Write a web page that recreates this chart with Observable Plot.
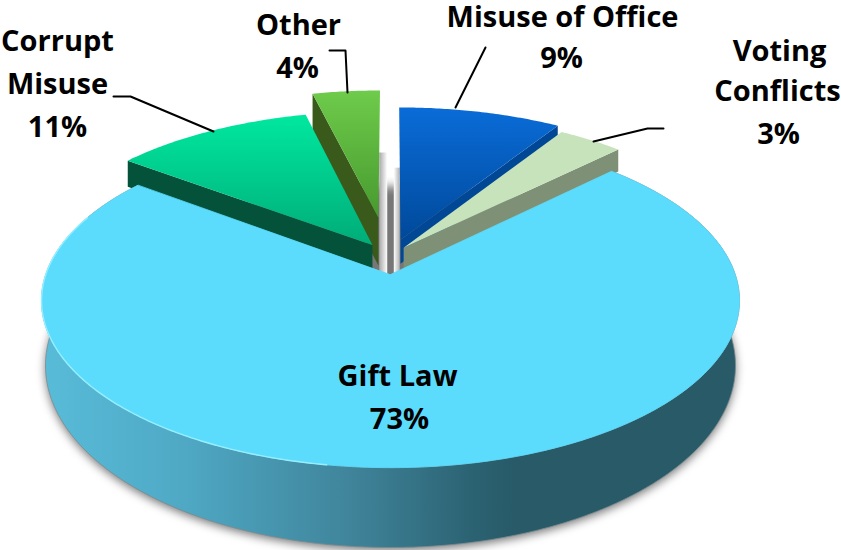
<!DOCTYPE html>
<html><head><meta charset="utf-8">
<script src="https://cdn.jsdelivr.net/npm/d3@7"></script>
<script src="https://cdn.jsdelivr.net/npm/@observablehq/plot@0.6"></script>
<style>html,body{margin:0;padding:0;background:#fff}svg{display:block}</style>
</head><body><div id="chart"></div>
<script>
// Data, clockwise from 12 o'clock
const categories = ["Misuse of Office", "Voting Conflicts", "Gift Law", "Corrupt Misuse", "Other"];
const shares     = [9, 3.6, 72.6, 11, 3.8];      // slice sizes
const labels     = ["9%", "3%", "73%", "11%", "4%"];

// Explosion of each slice on the pie's ground plane, in radii
const explodeU = [0.03, 0.039, 0, -0.054, -0.037];
const explodeV = [-0.22, -0.168, 0, -0.186, -0.37];
const wallDrop = [24, 22, 0, 26, 48];

// Text lines
const textLines = ["Misuse of Office","9%","Voting","Conflicts","3%","Corrupt","Misuse","11%","Other","4%","Gift Law","73%"];
const textX = [562,561,779,777,778,57,57,57,298,297,397,399];
const textY = [17,58,51,91,134,41,84,127,25,68,376,419];

// Leader lines
const leaders = [
  [[455,107],[485,47]],
  [[593,141],[647,128],[663,128]],
  [[213,131],[130,96],[113,96]],
  [[347,92],[345,50],[329,50]]
];

// Perspective of the pie's top face, and the ellipse of its base
const top_ = {a:344.7, b:163, k:0.156, y0:274};
const base = {rx:345, ry:182, cy:365};
const cx = 390;
const P = (u, v) => ({x: cx + top_.a*u/(1-top_.k*v), y: top_.y0 + top_.b*v/(1-top_.k*v)});
const slices = d3.pie().sort(null).startAngle(0).endAngle(2*Math.PI)(shares)
  .map((d,i) => ({a0:d.startAngle, a1:d.endAngle, ou:explodeU[i], ov:explodeV[i], drop:wallDrop[i]}));
const rim = (s, ang, r=1) => P(s.ou + r*Math.sin(ang), s.ov - r*Math.cos(ang));
const apex = s => P(s.ou, s.ov);
const steps = (a0, a1) => { const n = Math.max(2, Math.ceil(Math.abs(a1-a0)/0.01));
  return d3.range(n+1).map(j => a0+(a1-a0)*j/n); };
const arc = (s, a0, a1) => steps(a0, a1).map(a => rim(s, a));
const baseArc = (a0, a1) => steps(a0, a1).map(a => ({x: cx + base.rx*Math.sin(a), y: base.cy - base.ry*Math.cos(a)}));
const face = s => [apex(s), ...arc(s, s.a0, s.a1)];
const down = (p, d) => ({x:p.x, y:p.y+d});
const radial = (s, ang) => { const r = rim(s, ang), a = apex(s);
  return [a, r, down(r, s.drop), down(a, s.drop)]; };

const poly = (pts, fill, extra={}) => Plot.line(pts, {x:"x", y:"y", curve:"linear-closed", fill, stroke:"none", ...extra});

function defs() {
  const d = d3.create("svg:defs");
  const grad = (id, x2, y2, stops) => {
    const g = d.append("linearGradient").attr("id", id).attr("x1",0).attr("y1",0).attr("x2",x2).attr("y2",y2);
    stops.forEach(([o,c]) => g.append("stop").attr("offset",o).attr("stop-color",c));
  };
  grad("gMisuse",0,1,[[0,"#0a6cd8"],[1,"#00499a"]]);
  grad("gCorrupt",0,1,[[0,"#00e89f"],[1,"#00ac78"]]);
  grad("gOther",0,1,[[0,"#6ecb4b"],[1,"#479a2e"]]);
  grad("gWall",1,0,[[0,"#58bcd9"],[0.2,"#4fa9c5"],[0.45,"#3f8399"],[0.62,"#2b6272"],[0.68,"#285a68"],[1,"#285a68"]]);
  grad("gShadeL",1,0,[[0,"#a8a8a8"],[1,"#ffffff"]]);
  grad("gShadeR",1,0,[[0,"#ffffff"],[1,"#b0b0b0"]]);
  return d.node();
}

const [misuse, voting, gift, corrupt, other] = slices;
const shadeL = (() => { const p = rim(other, other.a1, 0.477), q = down(apex(gift), 10);
  return [p, {x:p.x+8,y:p.y}, {x:p.x+8,y:q.y}, {x:p.x,y:q.y}]; })();
const shadeR = (() => { const p = rim(misuse, misuse.a0, 0.51), q = down(apex(gift), 10);
  return [{x:p.x-6,y:p.y}, p, {x:p.x,y:q.y}, {x:p.x-6,y:q.y}]; })();
const groundAll = baseArc(0, 2*Math.PI);
const wallPts = [...arc(gift, gift.a0, gift.a1), ...baseArc(gift.a1, gift.a0)];

const marks = [
  defs,
  poly(groundAll.map(p => ({x:p.x, y:p.y+3})), "#777", {imageFilter:"blur(5px)"}),
  poly(shadeL, "url(#gShadeL)"),
  poly(shadeR, "url(#gShadeR)"),
  // Other
  poly(radial(other, other.a0), "#3a5a1c"),
  poly(face(other), "url(#gOther)"),
  // Misuse of Office
  poly(radial(misuse, misuse.a1), "#004796"),
  poly(face(misuse), "url(#gMisuse)"),
  // Voting Conflicts
  poly(radial(voting, voting.a1), "#7e9075"),
  poly(face(voting), "#c7e3bb"),
  // Corrupt Misuse
  poly(radial(corrupt, corrupt.a0), "#05523a"),
  poly(face(corrupt), "url(#gCorrupt)"),
  // Gift Law
  poly(wallPts, "url(#gWall)", {stroke:"#7a8a90", strokeWidth:0.8}),
  poly(face(gift), "#5cdcfc", {stroke:"#5cdcfc", strokeWidth:0.8}),
  Plot.line(arc(gift, Math.PI*1.05, Math.PI*1.62), {x:"x", y:"y", stroke:"#96efff", strokeWidth:1.4}),
  ...leaders.map(l => Plot.line(l, {x:d=>d[0], y:d=>d[1], stroke:"#000", strokeWidth:2})),
  Plot.text(textLines, {x:(d,i)=>textX[i], y:(d,i)=>textY[i], text:d=>d, fill:"#000", stroke:"none",
    fontFamily:"'Open Sans', sans-serif", fontWeight:700, fontSize:29, textAnchor:"middle", lineAnchor:"middle"})
];

const chart = Plot.plot({
  width:841, height:550, margin:0,
  x:{domain:[0,841], range:[0,841], axis:null},
  y:{domain:[0,550], range:[0,550], axis:null},
  style:{background:"#fff"},
  marks
});
document.getElementById("chart").append(chart);
</script></body></html>
